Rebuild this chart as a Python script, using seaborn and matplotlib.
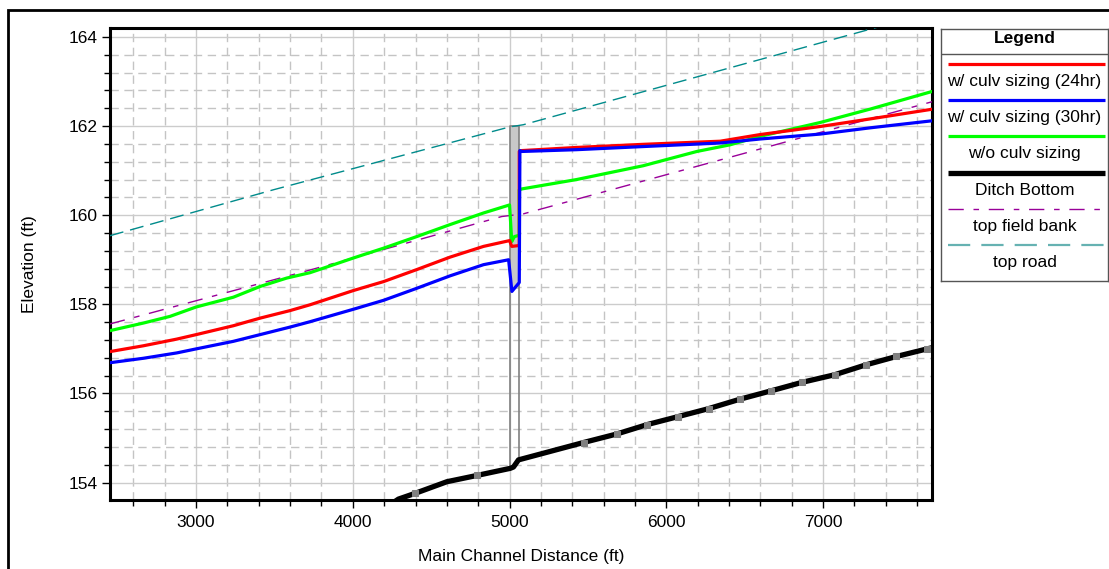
import numpy as np
import matplotlib
matplotlib.use("Agg")
import matplotlib.pyplot as plt
from matplotlib.patches import Rectangle
from matplotlib.ticker import MultipleLocator
import seaborn as sns

# profile data (ft)
road_x = [2451, 3493, 5000, 5088, 7700]
road_y = [159.54, 160.57, 161.98, 162.03, 164.56]

bank_x = [2451, 3727, 4950, 5088, 6365, 7700]
bank_y = [157.56, 158.77, 159.97, 160.03, 161.26, 162.55]

wo_x = [2451, 2664, 2834, 3000, 3238, 3408, 3579, 3727, 4004, 4196, 4408, 4621, 4834,
        5000, 5014, 5031, 5062, 5062, 5079, 5428, 5853, 6195, 6408, 6600, 6982, 7300, 7700]
wo_y = [157.41, 157.58, 157.73, 157.94, 158.16, 158.40, 158.59, 158.71, 159.04, 159.26, 159.52, 159.79, 160.05,
        160.23, 159.41, 159.52, 159.55, 160.57, 160.59, 160.80, 161.11, 161.43, 161.58, 161.77, 162.08, 162.38, 162.78]

w24_x = [2451, 2664, 2877, 3000, 3238, 3408, 3600, 3727, 4004, 4196, 4408, 4621, 4834,
         5000, 5014, 5062, 5062, 5079, 5428, 5853, 6344, 6600, 6982, 7300, 7700]
w24_y = [156.94, 157.07, 157.22, 157.32, 157.52, 157.69, 157.86, 157.99, 158.31, 158.51, 158.78, 159.06, 159.30,
         159.43, 159.30, 159.32, 161.43, 161.45, 161.52, 161.59, 161.66, 161.81, 161.99, 162.16, 162.38]

w30_x = [2451, 2664, 2877, 3000, 3238, 3408, 3600, 3727, 4004, 4196, 4408, 4621, 4834,
         4994, 5015, 5062, 5066, 5079, 5428, 5853, 6344, 6600, 6982, 7300, 7700]
w30_y = [156.69, 156.79, 156.91, 157.00, 157.17, 157.32, 157.49, 157.61, 157.89, 158.09, 158.36, 158.64, 158.89,
         159.00, 158.29, 158.49, 161.45, 161.43, 161.47, 161.54, 161.62, 161.71, 161.82, 161.96, 162.12]

ditch_x = [4270, 4291, 4398, 4600, 4791, 5004, 5025, 5057, 5472, 5683, 5876, 6074, 6270,
           6468, 6669, 6866, 7074, 7271, 7468, 7663, 7700]
ditch_y = [153.58, 153.63, 153.76, 154.02, 154.16, 154.32, 154.35, 154.51, 154.90, 155.09, 155.30, 155.48, 155.66,
           155.87, 156.06, 156.25, 156.42, 156.64, 156.83, 157.00, 157.03]
ditch_xs_idx = [2, 4, 8, 9, 10, 11, 12, 13, 14, 15, 16, 17, 18, 19]  # cross sections with markers

# culvert
culv_x = [5005, 5058]
culv_top = 162.0
culv_low = 158.35
culv_inv = [154.33, 154.51]

legend_names = ["w/ culv sizing (24hr)", "w/ culv sizing (30hr)", "w/o culv sizing",
                "Ditch Bottom", "top field bank", "top road"]

sns.set_style("white")
plt.rcParams['font.family'] = ['Liberation Sans', 'DejaVu Sans']
plt.rcParams['text.color'] = 'black'
plt.rcParams['axes.labelcolor'] = 'black'
plt.rcParams['xtick.color'] = 'black'
plt.rcParams['ytick.color'] = 'black'
FS = 12.5

W, H = 1109, 569
fig = plt.figure(figsize=(W / 100, H / 100), dpi=100)
ax = fig.add_axes([110 / W, 1 - 500 / H, (932 - 110) / W, (500 - 28) / H])

road_ls = (0, (10, 5))
bank_ls = (0, (11, 7, 4, 7))

# culvert deck and walls
ax.fill_between(culv_x, [culv_low] * 2, [culv_top] * 2, color="#c8c8c8", zorder=2, lw=0)
ax.plot([culv_x[0], culv_x[0], culv_x[1], culv_x[1]],
        [culv_inv[0], culv_top, culv_top, culv_inv[1]], color="#808080", lw=1.2, zorder=2.1)

sns.lineplot(x=road_x, y=road_y, ax=ax, color="#008b8b", lw=1.0, linestyle=road_ls,
             sort=False, estimator=None, legend=False, zorder=3)
sns.lineplot(x=bank_x, y=bank_y, ax=ax, color="#990099", lw=1.0, linestyle=bank_ls,
             sort=False, estimator=None, legend=False, zorder=3)
sns.lineplot(x=wo_x, y=wo_y, ax=ax, color="#00ff00", lw=2.3,
             sort=False, estimator=None, legend=False, zorder=4)
sns.lineplot(x=w24_x, y=w24_y, ax=ax, color="#ff0000", lw=2.3,
             sort=False, estimator=None, legend=False, zorder=4.1)
sns.lineplot(x=w30_x, y=w30_y, ax=ax, color="#0000ff", lw=2.3,
             sort=False, estimator=None, legend=False, zorder=4.2)
sns.lineplot(x=ditch_x, y=ditch_y, ax=ax, color="black", lw=3.8, marker="s", markersize=5,
             markerfacecolor="#808080", markeredgecolor="#808080", markevery=ditch_xs_idx,
             sort=False, estimator=None, legend=False, zorder=5)

ax.set_xlim(2451, 7695)
ax.set_ylim(153.61, 164.2)
ax.xaxis.set_major_locator(MultipleLocator(1000))
ax.xaxis.set_minor_locator(MultipleLocator(200))
ax.yaxis.set_major_locator(MultipleLocator(2))
ax.yaxis.set_minor_locator(MultipleLocator(0.4))
ax.grid(which="major", color="#cccccc", lw=1.0, ls="-", zorder=0)
ax.grid(which="minor", color="#c4c4c4", lw=1.0, ls=(0, (6, 4)), zorder=0)
ax.set_axisbelow(True)

for sp in ax.spines.values():
    sp.set_linewidth(2.2)
    sp.set_color("black")
ax.tick_params(axis="both", which="both", direction="out", bottom=True, left=True,
               top=False, right=False, labelsize=FS, color="black")
ax.tick_params(which="major", length=6, width=1)
ax.tick_params(which="minor", length=4, width=1)
ax.tick_params(axis="x", pad=5)
ax.tick_params(axis="y", pad=3)

ax.set_xlabel("Main Channel Distance (ft)", fontsize=FS)
ax.set_ylabel("Elevation (ft)", fontsize=FS)
ax.xaxis.set_label_coords(0.5, -(549 - 500) / 472)
ax.yaxis.set_label_coords((37 - 110) / 822, 0.5)

# outer frame
fig.add_artist(Rectangle((8 / W, -0.1), 1.2, 1 - 10 / H + 0.1, transform=fig.transFigure,
                         fill=False, ec="black", lw=2.0))

# legend panel
lx0, lx1, ly0, ly1 = 941, 1108, 29, 281
lax = fig.add_axes([lx0 / W, 1 - ly1 / H, (lx1 - lx0) / W, (ly1 - ly0) / H])
lax.set_xlim(0, 1)
lax.set_ylim(0, 1)
lax.set_xticks([])
lax.set_yticks([])
for sp in lax.spines.values():
    sp.set_linewidth(1.0)
    sp.set_color("#555555")


def ly(py):
    return (ly1 - py) / (ly1 - ly0)


lax.text(0.5, ly(39), "Legend", ha="center", va="center", fontsize=FS, fontweight="bold")
lax.plot([0, 1], [ly(53.5)] * 2, color="#555555", lw=1.0)
styles = [
    dict(color="#ff0000", lw=2.3),
    dict(color="#0000ff", lw=2.3),
    dict(color="#00ff00", lw=2.3),
    dict(color="black", lw=3.8),
    dict(color="#990099", lw=1.0, linestyle=bank_ls),
    dict(color="#66b2b2", lw=1.6, linestyle=road_ls),
]
for i, (name, st) in enumerate(zip(legend_names, styles)):
    y_line = 64 + i * 36.2
    lax.plot([0.042, 0.982], [ly(y_line)] * 2, **st, solid_capstyle="butt")
    lax.text(0.5, ly(y_line + 17.5), name, ha="center", va="center", fontsize=FS)

fig.savefig("out.png", dpi=100)
